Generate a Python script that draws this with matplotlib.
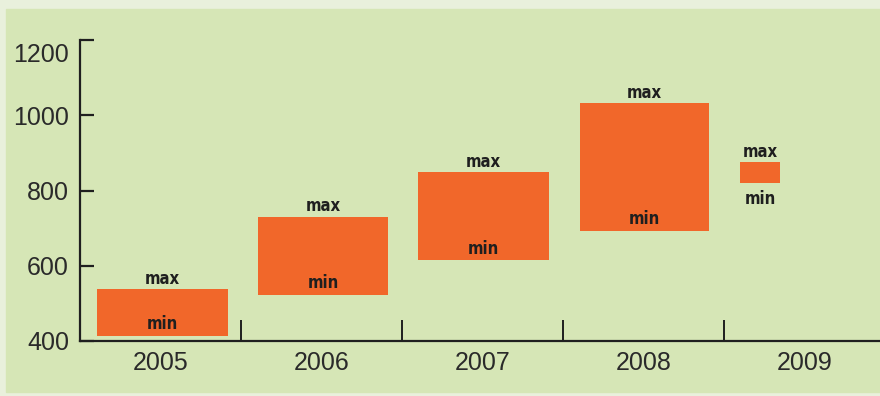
import numpy as np
import matplotlib.pyplot as plt
import matplotlib.transforms as mtransforms
from matplotlib.patches import Rectangle

# data
years = ['2005', '2006', '2007', '2008', '2009']
min_vals = [413, 522, 614, 693, 819]
max_vals = [538, 730, 848, 1032, 875]
y_ticks = [400, 600, 800, 1000, 1200]

# style: bar width / shift per category, where the 'min' label sits
bar_widths = [0.81, 0.81, 0.81, 0.80, 0.25]
bar_shift = [0.012, 0.01, 0.006, 0.006, -0.276]
min_pos = ['in', 'in', 'in', 'in', 'below']

bg = '#d6e6b6'
orange = '#f1672a'
ink = '#1f1f1f'

plt.rcParams['font.family'] = ['Liberation Sans Narrow', 'Liberation Sans', 'DejaVu Sans']
lab_font = dict(family=['DejaVu Sans'], fontstretch='condensed', fontweight='bold',
                fontsize=12, color=ink)

fig = plt.figure(figsize=(8.8, 3.96), dpi=100, facecolor='#e9f0dc')
fig.patches.append(Rectangle((6 / 880, 4 / 396), 1, (396 - 13) / 396,
                             transform=fig.transFigure, color=bg, zorder=-10))
ax = fig.add_axes([80 / 880, 55 / 396, 805 / 880, 301 / 396])
ax.patch.set_visible(False)

x = np.arange(len(years))
xpos = x + np.array(bar_shift)
heights = np.array(max_vals) - np.array(min_vals)
ax.bar(xpos, heights, bottom=min_vals, width=bar_widths, color=orange, zorder=2)

for xp, lo, hi, where in zip(xpos, min_vals, max_vals, min_pos):
    ax.annotate('max', (xp, hi), xytext=(0, 1), textcoords='offset points',
                ha='center', va='bottom', **lab_font)
    if where == 'in':
        ax.annotate('min', (xp, lo), xytext=(0, 2), textcoords='offset points',
                    ha='center', va='bottom', **lab_font)
    else:
        ax.annotate('min', (xp, lo), xytext=(0, -5), textcoords='offset points',
                    ha='center', va='top', **lab_font)

ax.set_xlim(-0.5, 4.5)
ax.set_ylim(400, 1200)
for s in ['top', 'right']:
    ax.spines[s].set_visible(False)
for s in ['left', 'bottom']:
    ax.spines[s].set_linewidth(1.6)
    ax.spines[s].set_color(ink)

ax.set_yticks(y_ticks)
ax.set_yticklabels([str(v) for v in y_ticks])
ax.tick_params(axis='y', direction='in', length=10, width=1.6, color=ink,
               labelsize=18, labelcolor='#2a2a2a', pad=8)

ax.set_xticks(x[:-1] + 0.5)
ax.set_xticklabels([])
ax.set_xticks(x, minor=True)
ax.set_xticklabels(years, minor=True)
ax.tick_params(axis='x', which='major', direction='in', length=15, width=1.4, color=ink)
ax.tick_params(axis='x', which='minor', length=0, labelsize=18,
               labelcolor='#2a2a2a', pad=7)

# the top label sits a little low in the original
off = mtransforms.ScaledTranslation(0, -13 / 100, fig.dpi_scale_trans)
lab = ax.get_yticklabels()[-1]
lab.set_transform(lab.get_transform() + off)

fig.savefig('out.png', dpi=100, facecolor=fig.get_facecolor())
